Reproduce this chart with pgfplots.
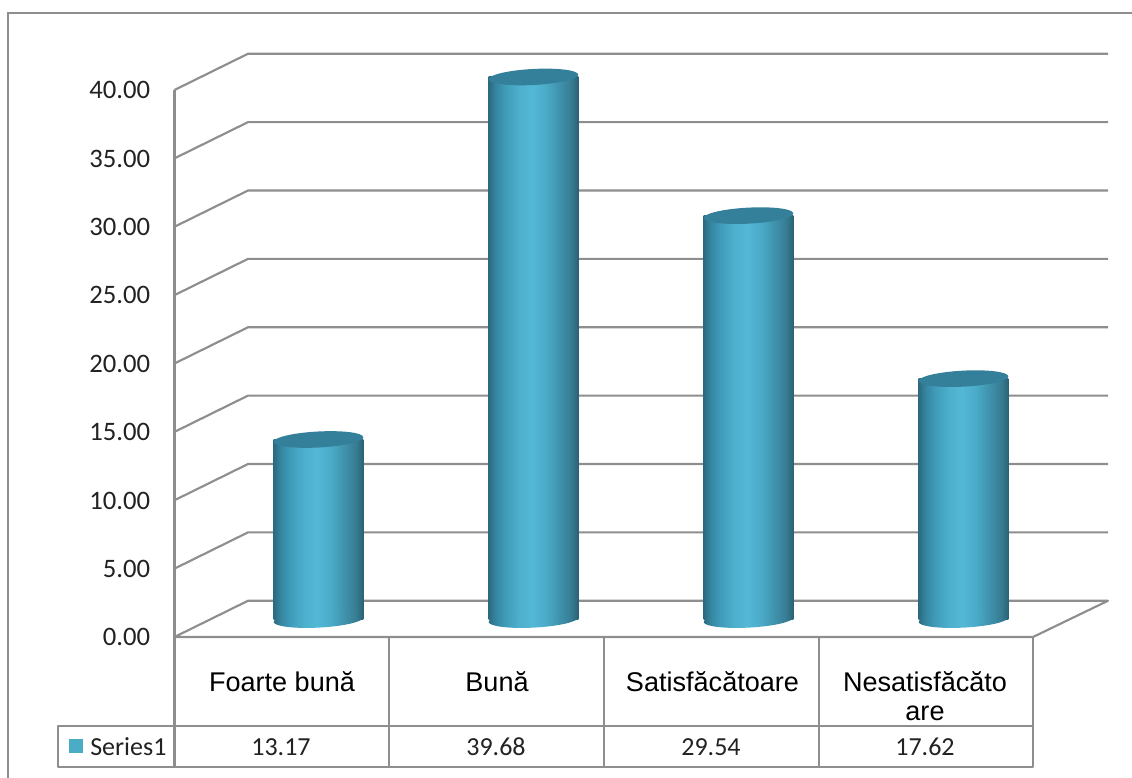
\documentclass[border=0pt]{standalone}
\usepackage{fontspec}
\usepackage{pgfplots}
\pgfplotsset{compat=1.18}
\setmainfont{Liberation Sans}
\newfontfamily\carlito{Carlito}
\definecolor{gridc}{HTML}{8E8E8E}
\definecolor{capc}{HTML}{347F99}
\definecolor{swatch}{HTML}{4BACC6}
\definecolor{numc}{HTML}{222222}
\definecolor{c0}{HTML}{2C6A80}
\definecolor{c1}{HTML}{3686A1}
\definecolor{c2}{HTML}{3F9BB8}
\definecolor{c3}{HTML}{4DB0CD}
\definecolor{c4}{HTML}{53B8D6}
\definecolor{c5}{HTML}{4AABC8}
\definecolor{c6}{HTML}{3F90AA}
\definecolor{c7}{HTML}{367C93}
\definecolor{c8}{HTML}{2B6274}
\pgfdeclarehorizontalshading{cylthree}{100bp}{
  color(0bp)=(c0); color(25bp)=(c0); color(29bp)=(c1); color(34bp)=(c2);
  color(42bp)=(c3); color(49bp)=(c4); color(57bp)=(c5); color(65bp)=(c6);
  color(71bp)=(c7); color(75bp)=(c8); color(100bp)=(c8)}
\pgfdeclareplotmark{cylcap}{%
  \pgfpathellipse{\pgfpointorigin}{\pgfqpoint{33.6pt}{1.75pt}}{\pgfqpoint{-0.3pt}{6pt}}%
  \pgfsetfillcolor{capc}\pgfusepathqfill}
\pgfdeclareplotmark{cylbase}{%
  \pgfpathellipse{\pgfpointorigin}{\pgfqpoint{33.6pt}{1.75pt}}{\pgfqpoint{-0.3pt}{6pt}}%
  \pgfshadepath{cylthree}{0}\pgfusepath{discard}}
\tikzset{px/.style={x=0.75pt,y=-0.75pt}}
\pgfplotsset{wall/.style={color=gridc,line width=1.6pt,mark=none,solid,line join=round}}
\begin{document}
\begin{tikzpicture}
\path[use as bounding box] (0,0) rectangle (849pt,583.5pt);
% frame
\begin{scope}[px]
\draw[gridc,line width=1.7pt] (8,0) -- (8,13-778) -- (1132,13-778);
\end{scope}
% main axis: y scale, walls, floor
\begin{axis}[
  at={(130.875pt,105.75pt)},anchor=south west,
  scale only axis,width=643.875pt,height=410.25pt,
  xmin=174.5,xmax=1033,ymin=0,ymax=40,clip=false,
  axis x line=bottom,axis y line=left,
  axis line style={-,draw=none},
  xtick=\empty,
  ytick={0,5,...,40},
  major tick length=0pt,
  y tick label style={/pgf/number format/fixed,/pgf/number format/fixed zerofill,
    /pgf/number format/precision=2,/pgf/number format/assume math mode=true,
    font=\carlito\fontsize{20}{24}\selectfont,text=numc,anchor=east,inner sep=0pt,xshift=-18pt,yshift=-0.2pt},
]
\addplot[wall] coordinates {(174.5,0) (174.5,40)};
\addplot[wall] coordinates {(174.5,0) (248,2.65) (1108,2.65) (1033,0) (174.5,0)};
\addplot[wall] coordinates {(174.5,5) (248,7.65) (1108,7.65)};
\addplot[wall] coordinates {(174.5,10) (248,12.65) (1108,12.65)};
\addplot[wall] coordinates {(174.5,15) (248,17.65) (1108,17.65)};
\addplot[wall] coordinates {(174.5,20) (248,22.65) (1108,22.65)};
\addplot[wall] coordinates {(174.5,25) (248,27.65) (1108,27.65)};
\addplot[wall] coordinates {(174.5,30) (248,32.65) (1108,32.65)};
\addplot[wall] coordinates {(174.5,35) (248,37.65) (1108,37.65)};
\addplot[wall] coordinates {(174.5,40) (248,42.65) (1108,42.65)};
\end{axis}
% cylinders
\begin{axis}[
  at={(158.25pt,118.8pt)},anchor=south west,
  scale only axis,width=645pt,height=410.25pt,
  xmin=-0.5,xmax=3.5,ymin=0,ymax=40,clip=false,hide axis,
]
\addplot[only marks,mark=cylbase] coordinates {(0,0) (1,0) (2,0) (3,0)};
\addplot[ybar,bar shift=0pt,bar width=67.2pt,draw=none,shade,shading=cylthree] coordinates {(0,13.17)};
\addplot[ybar,bar shift=0pt,bar width=67.2pt,draw=none,shade,shading=cylthree] coordinates {(1,39.68)};
\addplot[ybar,bar shift=0pt,bar width=67.2pt,draw=none,shade,shading=cylthree] coordinates {(2,29.54)};
\addplot[ybar,bar shift=0pt,bar width=67.2pt,draw=none,shade,shading=cylthree] coordinates {(3,17.62)};
\addplot[only marks,mark=cylcap] coordinates {(0,13.17) (1,39.68) (2,29.54) (3,17.62)};
\end{axis}
% data table
\begin{scope}[px]
\begin{scope}[gridc,line width=1.6pt]
\draw (174.5,637-778) -- (174.5,767-778);
\draw (389,637-778) -- (389,767-778);
\draw (604,637-778) -- (604,767-778);
\draw (819,637-778) -- (819,767-778);
\draw[line join=round] (1033,637-778) -- (1033,767-778) -- (58,767-778) -- (58,726-778) -- (1033,726-778);
\end{scope}
\fill[swatch] (69,739-778) rectangle (83,753-778);
\def\lab{\fontsize{20.3}{21.7}\selectfont}
\node[font=\lab] at (282,682-778) {Foarte bună};
\node[font=\lab] at (497,682-778) {Bună};
\node[font=\lab] at (712.5,682-778) {Satisfăcătoare};
\node[font=\lab,align=center] at (925,696-778) {Nesatisfăcăto\\are};
\def\num{\carlito\fontsize{19.5}{23}\selectfont}
\node[font=\num,text=numc,anchor=west,inner sep=0pt] at (90,747-778) {Series1};
\node[font=\num,text=numc] at (281,747-778) {13.17};
\node[font=\num,text=numc] at (496,747-778) {39.68};
\node[font=\num,text=numc] at (711,747-778) {29.54};
\node[font=\num,text=numc] at (925,747-778) {17.62};
\end{scope}
\end{tikzpicture}
\end{document}
